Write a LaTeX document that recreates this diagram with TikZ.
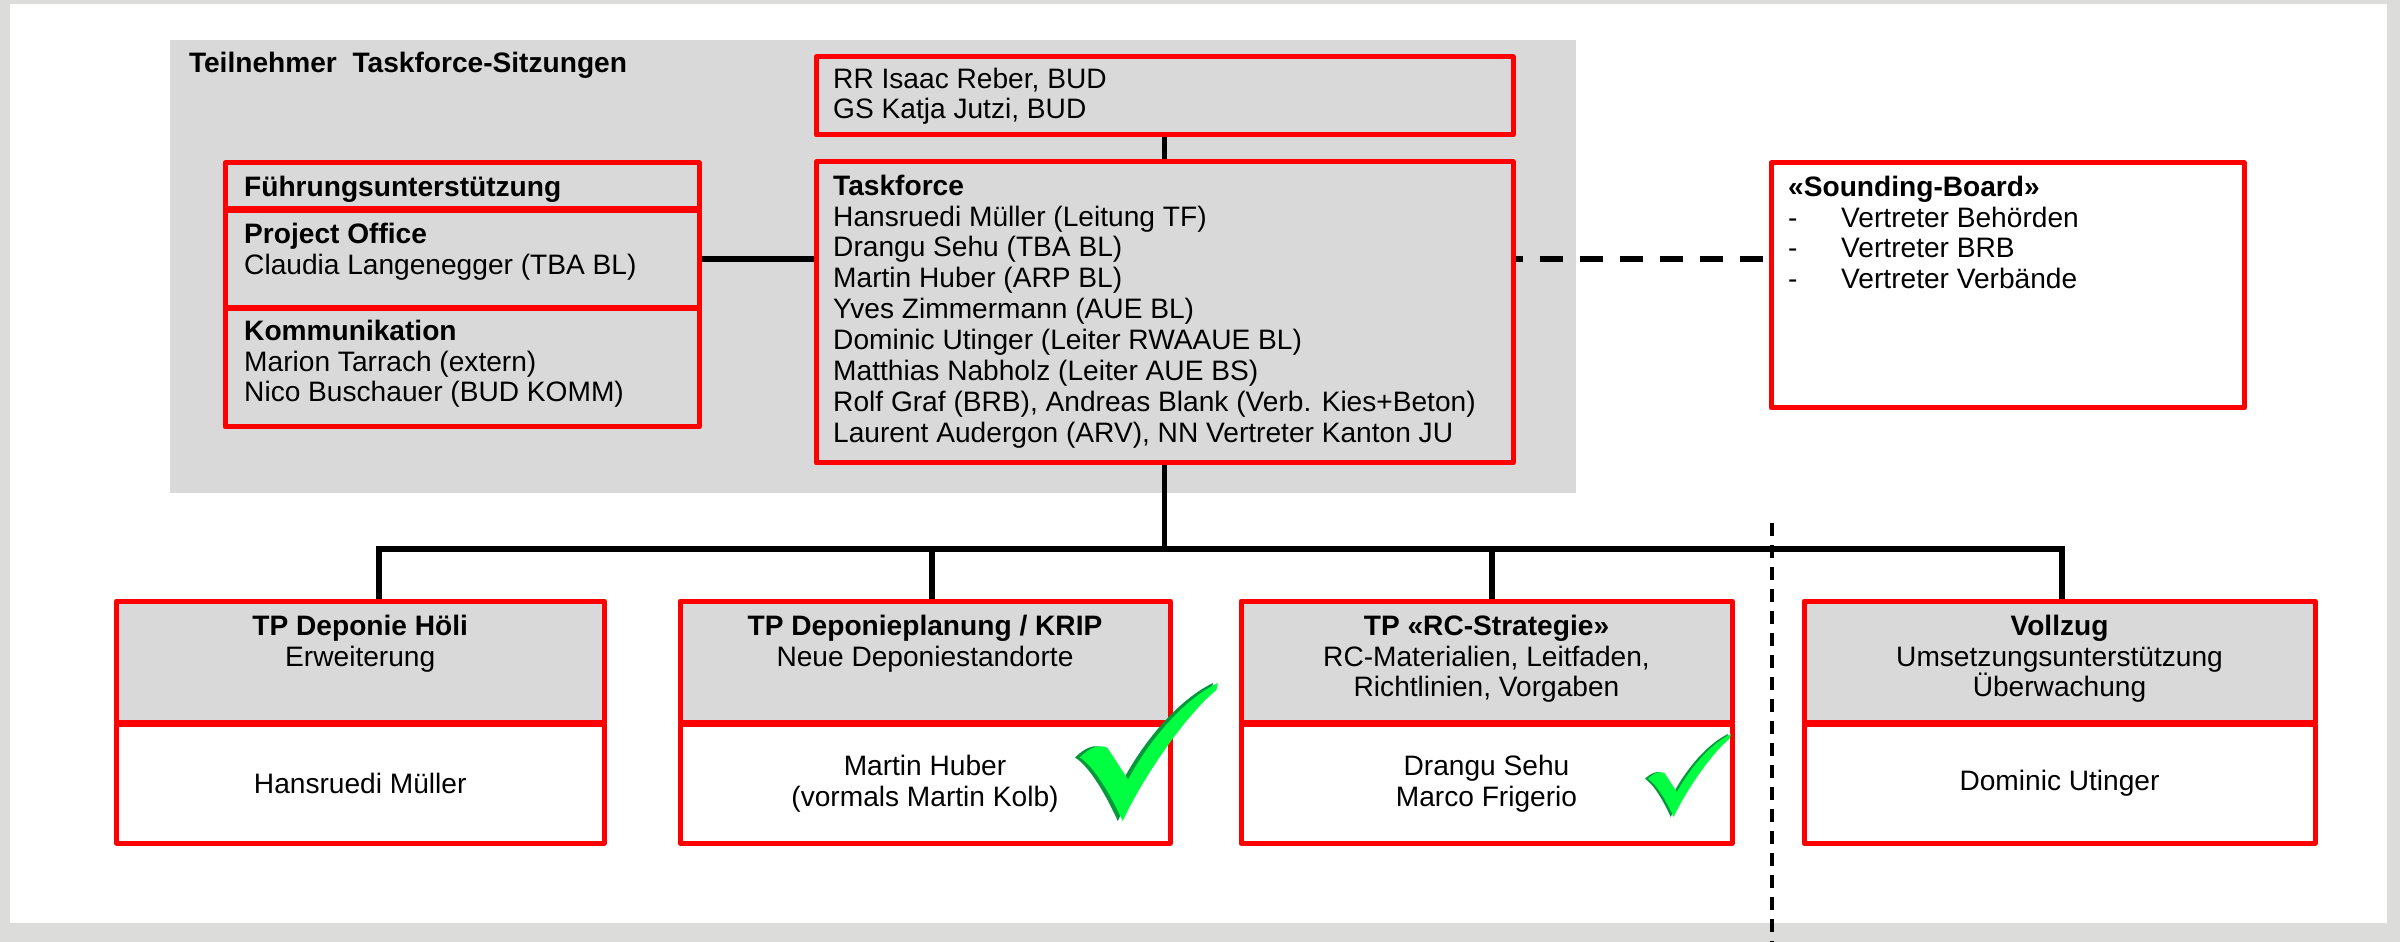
\documentclass[tikz,border=0pt]{standalone}
\usepackage{fontspec}
\setmainfont{Liberation Sans}
\usetikzlibrary{positioning}

\definecolor{framegray}{HTML}{DCDCDA}
\definecolor{panelgray}{HTML}{D9D9D9}
\definecolor{tickgreen}{HTML}{00FF40}
\definecolor{tickdark}{HTML}{009A3A}

\tikzset{
  redbox/.style={draw=red, line width=0.05cm, line join=round, inner sep=1pt},
  hdr/.style={redbox, fill=panelgray, minimum height=1.21cm},
  body/.style={redbox, fill=white, minimum height=1.19cm, align=center, font=\fontsize{8}{8.8}\selectfont},
  txt/.style={inner sep=0pt, align=left, anchor=north west, font=\fontsize{8}{8.8}\selectfont},
  link/.style={line width=0.055cm},
  pics/checkmark/.style={code={
    \fill[tickdark] (0,0.54) .. controls (0.07,0.47) and (0.14,0.44) .. (0.2,0.47) -- (0.35,0.7)
      .. controls (0.5,0.42) and (0.75,0.12) .. (1,0) -- (0.99,0.05)
      .. controls (0.75,0.25) and (0.45,0.7) .. (0.31,1)
      .. controls (0.22,0.8) and (0.1,0.6) .. cycle;
    \fill[tickgreen, shift={(0.035,0)}] (0,0.54) .. controls (0.07,0.47) and (0.14,0.44) .. (0.2,0.47) -- (0.35,0.7)
      .. controls (0.5,0.42) and (0.75,0.12) .. (1,0) -- (0.99,0.05)
      .. controls (0.75,0.25) and (0.45,0.7) .. (0.31,1)
      .. controls (0.22,0.8) and (0.1,0.6) .. cycle;
  }}
}

\begin{document}
\begin{tikzpicture}[y=-1cm]
\useasboundingbox (0,0) rectangle (24,9.42);
\fill[framegray] (0,0) rectangle (24,9.42);
\fill[white] (0.10,0.04) rectangle (23.87,9.23);

% Teilnehmer Taskforce-Sitzungen
\node[fill=panelgray, inner sep=0, minimum width=14.06cm, minimum height=4.53cm] (panel) at (8.73,2.665) {};
\node[txt, below right=0.125cm and 0.19cm of panel.north west, font=\fontsize{8}{8.8}\selectfont\bfseries] (paneltitle) {Teilnehmer\ \ Taskforce-Sitzungen};

\node[redbox, fill=panelgray, minimum width=6.97cm, minimum height=0.78cm] (rr) at (11.645,0.96) {};
\node[txt, below right=0.125cm and 0.19cm of rr.north west] (rrtext) {RR Isaac Reber, BUD\\GS Katja Jutzi, BUD};

\node[redbox, fill=panelgray, minimum width=6.97cm, minimum height=3.01cm] (tf) at (11.645,3.125) {};
\node[txt, below right=0.145cm and 0.19cm of tf.north west] (tftext) {\textbf{Taskforce}\\Hansruedi Müller (Leitung TF)\\Drangu Sehu (TBA BL)\\Martin Huber (ARP BL)\\Yves Zimmermann (AUE BL)\\Dominic Utinger (Leiter RWAAUE BL)\\Matthias Nabholz (Leiter AUE BS)\\Rolf Graf (BRB), Andreas Blank (Verb. Kies+Beton)\\Laurent Audergon (ARV), NN Vertreter Kanton JU};

% Fuehrungsunterstuetzung
\node[redbox, fill=panelgray, minimum width=4.74cm, minimum height=0.46cm] (fu) at (4.62,1.86) {};
\node[txt, below right=0.145cm and 0.21cm of fu.north west] (futext) {\textbf{Führungsunterstützung}};
\node[redbox, fill=panelgray, minimum width=4.74cm, minimum height=0.965cm] (po) at (4.62,2.5925) {};
\node[txt, below right=0.135cm and 0.21cm of po.north west] (potext) {\textbf{Project Office}\\Claudia Langenegger (TBA BL)};
\node[redbox, fill=panelgray, minimum width=4.74cm, minimum height=1.185cm] (ko) at (4.62,3.6775) {};
\node[txt, below right=0.13cm and 0.21cm of ko.north west] (kotext) {\textbf{Kommunikation}\\Marion Tarrach (extern)\\Nico Buschauer (BUD KOMM)};

% Sounding-Board
\node[redbox, fill=white, minimum width=4.73cm, minimum height=2.45cm] (sb) at (20.075,2.855) {};
\node[txt, below right=0.145cm and 0.19cm of sb.north west] (sbtext) {\textbf{«Sounding-Board»}\\\makebox[0.53cm][l]{-}Vertreter Behörden\\\makebox[0.53cm][l]{-}Vertreter BRB\\\makebox[0.53cm][l]{-}Vertreter Verbände};

\draw[link] (rr.south) -- (tf.north);
\draw[link] (po.east) -- (po.east -| tf.west);
\draw[link, dash pattern=on 0.23cm off 0.17cm, dash phase=0.16cm] (tf.east |- po.east) -- (po.east -| sb.west);

% Teilprojekte
\node[hdr, minimum width=4.875cm] (hoeli) at (3.6025,6.615) {};
\node[body, minimum width=4.875cm] (hoelip) at (3.6025,7.835) {Hansruedi Müller};
\node[txt, align=center, below=0.155cm of hoeli.north] (hoelit) {\textbf{TP Deponie Höli}\\Erweiterung};

\node[hdr, minimum width=4.90cm] (krip) at (9.25,6.615) {};
\node[body, minimum width=4.90cm] (krippers) at (9.25,7.835) {Martin Huber\\(vormals Martin Kolb)};
\node[txt, align=center, below=0.155cm of krip.north] (kript) {\textbf{TP Deponieplanung / KRIP}\\Neue Deponiestandorte};

\node[hdr, minimum width=4.91cm] (rc) at (14.865,6.615) {};
\node[body, minimum width=4.91cm] (rcpers) at (14.865,7.835) {Drangu Sehu\\Marco Frigerio};
\node[txt, align=center, below=0.155cm of rc.north] (rct) {\textbf{TP «RC-Strategie»}\\RC-Materialien, Leitfaden,\\Richtlinien, Vorgaben};

\node[hdr, minimum width=5.11cm] (vollzug) at (20.595,6.615) {};
\node[body, minimum width=5.11cm] (vollzugpers) at (20.595,7.835) {Dominic Utinger};
\node[txt, align=center, below=0.155cm of vollzug.north] (vollzugt) {\textbf{Vollzug}\\Umsetzungsunterstützung\\Überwachung};

% Verbindungen
\coordinate (bl) at (3.79,5.49);
\coordinate (j2) at (9.32,5.49);
\coordinate (j3) at (14.92,5.49);
\coordinate (br) at (20.62,5.49);
\draw[link] (tf.south) -- (tf.south |- bl);
\draw[link] (bl |- hoeli.north) -- (bl) -- (br) -- (br |- vollzug.north);
\draw[link] (j2) -- (j2 |- krip.north);
\draw[link] (j3) -- (j3 |- rc.north);

\coordinate (cuttop) at (17.72,5.23);
\coordinate (cutbot) at (17.72,9.42);
\draw[line width=0.035cm, dash pattern=on 0.13cm off 0.09cm] (cuttop) -- (cutbot);

\pic[scale=1.38] at (10.75,6.83) {checkmark};
\pic[scale=0.83] at (16.45,7.34) {checkmark};

\end{tikzpicture}
\end{document}
